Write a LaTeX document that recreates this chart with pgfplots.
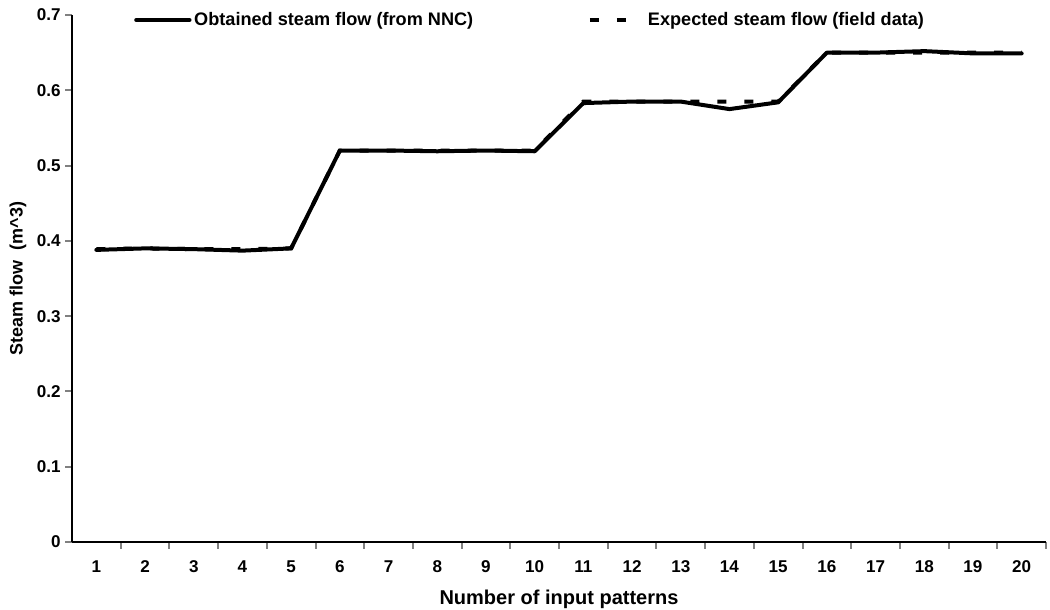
\documentclass[border=0pt]{standalone}
\usepackage{fontspec}
\setmainfont{Liberation Sans}
\usepackage{pgfplots}
\pgfplotsset{compat=1.18}
\begin{document}
\begin{tikzpicture}
\begin{axis}[
  name=main,
  width=730.5pt, height=395.25pt, scale only axis,
  xmin=0.5, xmax=20.5, ymin=0, ymax=0.7,
  axis lines*=left,
  axis line style={line width=1.8pt},
  xtick={1,...,20},
  major x tick style={draw=none},
  minor xtick={1.5,2.5,...,19.5,20.5},
  minor x tick style={line width=1.5pt},
  minor tick length=5pt,
  ytick={0,0.1,...,0.7},
  yticklabel style={/pgf/number format/fixed,/pgf/number format/precision=1},
  major y tick style={line width=1.5pt},
  major tick length=5pt,
  tick align=outside,
  /pgf/number format/assume math mode=true,
  tick label style={font=\fontsize{12.8}{14}\selectfont\bfseries},
  xticklabel style={text height=9.2pt, text depth=0pt, yshift=-5pt},
  xlabel={Number of input patterns},
  xlabel style={font=\fontsize{15}{17}\selectfont\bfseries, at={([yshift=-43pt]axis description cs:0.5,0)}, anchor=center},
  ylabel={Steam flow\ \ (m\textasciicircum 3)},
  ylabel style={font=\fontsize{13.5}{15}\selectfont\bfseries, at={([xshift=-40.5pt]axis description cs:0,0.5)}, anchor=center},
  legend style={at={(rel axis cs:0.0595,0.9905)}, anchor=west, draw=none, fill=none,
    font=\fontsize{13.6}{15}\selectfont\bfseries, legend columns=2,
    /tikz/every even column/.append style={column sep=84pt}},
  legend image code/.code={\draw[#1] (0pt,0pt) -- (40pt,0pt);},
  clip=false,
]
\addplot[black, line width=3pt, line join=round, line cap=round] coordinates {
(1,0.388) (2,0.390) (3,0.389) (4,0.387) (5,0.390)
(6,0.520) (7,0.520) (8,0.519) (9,0.520) (10,0.519)
(11,0.583) (12,0.585) (13,0.585) (14,0.575) (15,0.584)
(16,0.650) (17,0.650) (18,0.652) (19,0.649) (20,0.649)};
\addlegendentry{Obtained steam flow (from NNC)}
\addplot[black, line width=3pt, dash pattern=on 6.75pt off 13.5pt] coordinates {
(1,0.389) (2,0.390) (3,0.389) (4,0.389) (5,0.390)
(6,0.520) (7,0.520) (8,0.520) (9,0.520) (10,0.520)
(11,0.585) (12,0.585) (13,0.585) (14,0.585) (15,0.585)
(16,0.650) (17,0.650) (18,0.650) (19,0.650) (20,0.650)};
\addlegendentry{Expected steam flow (field data)}
\end{axis}
\pgfresetboundingbox
\path[use as bounding box] ([shift={(-54pt,-51pt)}]main.south west) rectangle ([shift={(3pt,11.25pt)}]main.north east);
\end{tikzpicture}
\end{document}
